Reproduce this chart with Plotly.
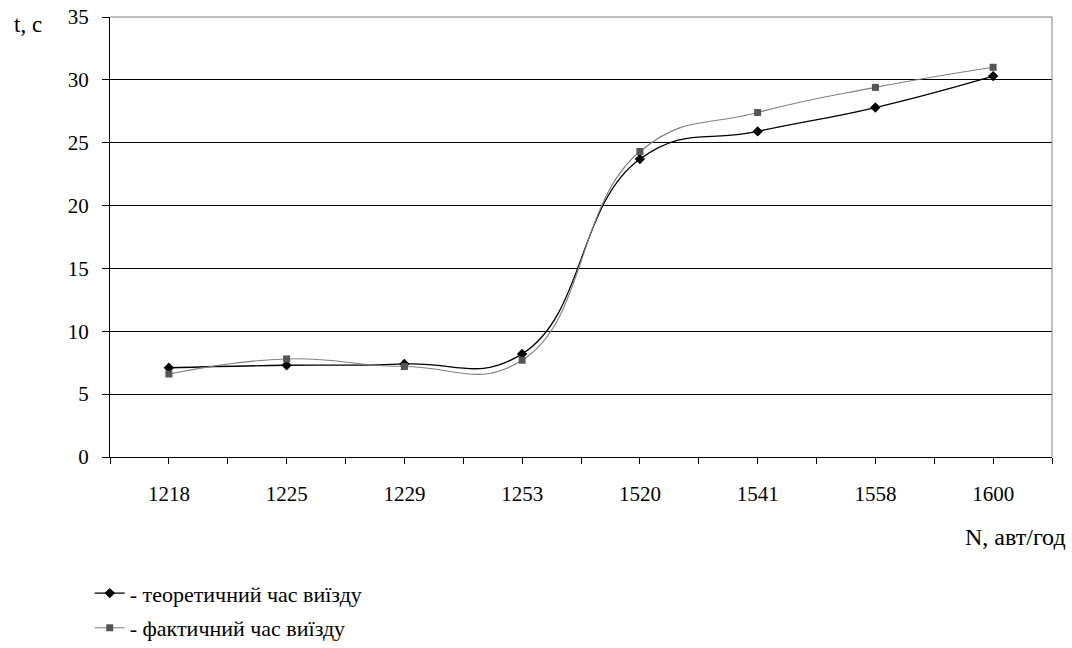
import plotly.graph_objects as go

categories = ["1218", "1225", "1229", "1253", "1520", "1541", "1558", "1600"]
theoretical = [7.1, 7.3, 7.4, 8.2, 23.7, 25.9, 27.8, 30.3]
actual = [6.6, 7.8, 7.2, 7.7, 24.3, 27.4, 29.4, 31.0]
y_ticks = [0, 5, 10, 15, 20, 25, 30, 35]

FONT = "Liberation Serif, serif"
xs = list(range(len(categories)))

fig = go.Figure()
fig.add_trace(go.Scatter(
    x=xs, y=theoretical, mode="lines+markers",
    name="- теоретичний час виїзду", legendgroup="a",
    line=dict(color="#000000", width=1.3, shape="spline", smoothing=1.3),
    marker=dict(symbol="diamond", size=8, color="#000000"),
))
fig.add_trace(go.Scatter(
    x=xs, y=actual, mode="lines+markers",
    name="- фактичний час виїзду", legendgroup="b",
    line=dict(color="#808080", width=1.1, shape="spline", smoothing=1.3),
    marker=dict(symbol="square", size=7, color="#555555"),
))

fig.update_layout(
    width=1072, height=648,
    margin=dict(l=110, r=20, t=17, b=191, autoexpand=False),
    paper_bgcolor="white", plot_bgcolor="white",
    font=dict(family=FONT, size=21, color="#000000"),
    showlegend=True,
    legend=dict(x=-0.0215, y=-0.262, xanchor="left", yanchor="top",
                font=dict(family=FONT, size=22, color="#000000"),
                tracegroupgap=3, bgcolor="rgba(0,0,0,0)"),
    xaxis=dict(range=[-0.5, 7.5], tickmode="array", tickvals=xs, ticktext=categories,
               ticks="outside", ticklen=6, tickcolor="#000", showgrid=False,
               showline=True, linecolor="#000", linewidth=1, zeroline=False,
               ticklabelstandoff=12, automargin=False,
               tickfont=dict(family=FONT, size=21),
               minor=dict(ticks="outside", ticklen=6, tickcolor="#000",
                          tick0=-0.5, dtick=1, showgrid=False)),
    yaxis=dict(range=[0, 35], tickmode="array", tickvals=y_ticks,
               ticks="outside", ticklen=7, tickcolor="#000",
               showgrid=True, gridcolor="#000000", gridwidth=1,
               showline=True, linecolor="#000", linewidth=1, zeroline=False,
               ticklabelstandoff=9, automargin=False,
               tickfont=dict(family=FONT, size=21)),
    annotations=[
        dict(text="t, c", xref="paper", yref="paper", x=-0.104, y=0.984,
             xanchor="left", yanchor="middle", showarrow=False,
             font=dict(family=FONT, size=23)),
        dict(text="N, авт/год", xref="paper", yref="paper", x=1.017, y=-0.182,
             xanchor="right", yanchor="middle", showarrow=False,
             font=dict(family=FONT, size=24)),
    ],
    shapes=[
        dict(type="line", xref="paper", yref="paper", x0=0, x1=1, y0=1, y1=1,
             line=dict(color="#808080", width=1)),
        dict(type="line", xref="paper", yref="paper", x0=1, x1=1, y0=0, y1=1,
             line=dict(color="#808080", width=1)),
    ],
)

fig.write_html("out.html")
